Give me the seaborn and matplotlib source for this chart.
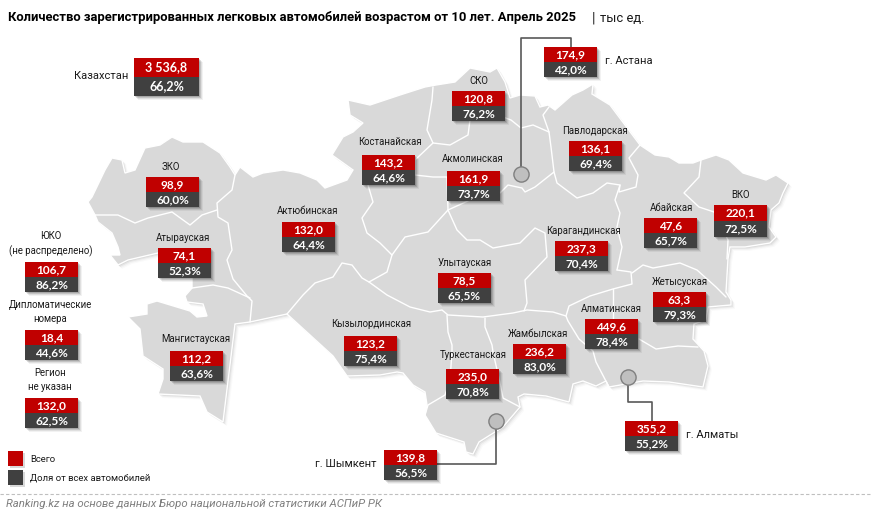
#!/usr/bin/env python3
"""Registered passenger cars older than 10 years by region of Kazakhstan, April 2025"""

import pandas as pd
import matplotlib.pyplot as plt
from matplotlib.patches import Polygon
import seaborn as sns

RED = '#C00000'
DARK = '#404040'
LAND = '#D9D9D9'

# Data
regions = ['Казахстан', 'ЗКО', 'Костанайская', 'Актюбинская', 'Атырауская',
           'ЮКО\n(не распределено)', 'Дипломатические\nномера', 'Регион\nне указан',
           'Мангистауская', 'Кызылординская', 'СКО', 'г. Астана', 'Акмолинская',
           'Павлодарская', 'Карагандинская', 'Абайская', 'ВКО', 'Улытауская',
           'Жетысуская', 'Алматинская', 'Жамбылская', 'Туркестанская',
           'г. Алматы', 'г. Шымкент']
totals = ['3 536,8', '98,9', '143,2', '132,0', '74,1',
          '106,7', '18,4', '132,0',
          '112,2', '123,2', '120,8', '174,9', '161,9',
          '136,1', '237,3', '47,6', '220,1', '78,5',
          '63,3', '449,6', '236,2', '235,0',
          '355,2', '139,8']
shares = ['66,2%', '60,0%', '64,6%', '64,4%', '52,3%',
          '86,2%', '44,6%', '62,5%',
          '63,6%', '75,4%', '76,2%', '42,0%', '73,7%',
          '69,4%', '70,4%', '65,7%', '72,5%', '65,5%',
          '79,3%', '78,4%', '83,0%', '70,8%',
          '55,2%', '56,5%']

# Layout in image pixels: left and top of each box, centre of each name
box_left = [134, 146, 362, 282, 158, 25, 25, 25, 170, 344, 452, 544, 447,
            569, 555, 644, 714, 438, 653, 585, 513, 446, 625, 384]
box_top = [58, 177, 155, 222, 248, 262, 330, 398, 351, 336, 91, 47, 171,
           141, 241, 218, 205, 273, 292, 319, 344, 369, 421, 450]
label_x = [128, 171, 390, 308, 183, 51, 50, 50, 196, 371, 479, 605, 473,
           595, 583, 671, 740, 465, 680, 611, 538, 473, 686, 376]
label_y = [76, 167, 142, 211, 238, 244, 312, 380, 339, 324, 81, 61, 159,
           131, 231, 208, 195, 263, 282, 309, 334, 355, 435, 464]
label_ha = {'Казахстан': 'right', 'г. Шымкент': 'right', 'г. Астана': 'left', 'г. Алматы': 'left'}

city_names = ['г. Астана', 'г. Алматы', 'г. Шымкент']
city_x = [521, 628, 496]
city_y = [174, 377, 421]
city_leaders = [[(521, 168), (521, 38), (571, 38), (571, 47)],
                [(628, 384), (628, 402), (652, 402), (652, 421)],
                [(496, 428), (496, 464), (437, 464)]]

# Map shapes traced by hand
country = [(88, 202), (92, 197), (105, 170), (112, 158), (122, 160), (125, 173), (135, 170), (145, 148),
           (160, 145), (172, 137), (183, 142), (203, 142), (220, 153), (230, 167), (235, 175), (240, 167),
           (253, 177), (263, 173), (283, 170), (300, 173), (317, 180), (325, 188), (347, 180), (353, 170),
           (332, 155), (343, 137), (353, 132), (363, 123), (350, 115), (348, 100), (370, 105), (400, 95),
           (425, 87), (436, 85), (455, 82), (470, 68), (490, 72), (497, 68), (505, 82), (510, 98),
           (520, 95), (535, 96), (540, 107), (548, 105), (555, 110), (572, 95), (583, 90), (593, 84),
           (592, 94), (610, 105), (625, 125), (640, 145), (655, 155), (669, 157), (679, 163), (693, 163),
           (701, 160), (716, 155), (729, 160), (743, 173), (766, 180), (776, 175), (788, 183), (783, 193),
           (779, 203), (771, 210), (769, 227), (776, 237), (770, 243), (745, 247), (730, 247), (728, 259),
           (726, 292), (731, 300), (731, 305), (719, 306), (708, 307), (706, 320), (694, 324), (693, 339),
           (704, 351), (708, 366), (703, 387), (669, 382), (643, 381), (609, 387), (606, 381), (596, 386),
           (583, 381), (573, 384), (569, 402), (546, 396), (524, 394), (518, 397), (520, 407), (503, 427),
           (479, 442), (473, 454), (466, 452), (464, 442), (436, 433), (425, 415), (427, 405), (425, 392),
           (413, 385), (403, 373), (397, 372), (380, 375), (347, 376), (333, 356), (287, 314), (250, 322),
           (235, 324), (223, 422), (207, 412), (200, 396), (158, 394), (163, 379), (163, 369), (143, 356),
           (140, 329), (128, 317), (147, 314), (147, 304), (157, 301), (190, 311), (197, 317), (207, 316),
           (203, 304), (187, 302), (185, 296), (192, 288), (192, 275), (190, 250), (158, 253), (128, 260),
           (118, 265), (110, 255), (120, 255), (118, 247), (112, 233), (98, 222), (95, 215)]

borders = [
    [(95, 215), (118, 215), (135, 223), (148, 218), (172, 212), (190, 225), (202, 215), (217, 210)],
    [(235, 175), (232, 190), (217, 203), (218, 217), (228, 223), (232, 250), (227, 260), (233, 279),
     (247, 296), (252, 301), (250, 322)],
    [(192, 288), (213, 285), (228, 288), (250, 298)],
    [(287, 314), (303, 295), (315, 283), (333, 277), (342, 263), (352, 265), (362, 278), (369, 282),
     (387, 295), (410, 307), (430, 312), (442, 310), (448, 315), (483, 317), (513, 313), (527, 310),
     (553, 312), (566, 316), (569, 306), (590, 296), (613, 289), (632, 284), (631, 272), (617, 270)],
    [(368, 185), (373, 202), (362, 218), (367, 233), (380, 243), (392, 255), (387, 272), (369, 282)],
    [(392, 255), (405, 237), (428, 232), (448, 210), (457, 230), (467, 240), (480, 240), (493, 248),
     (520, 243), (535, 228), (545, 233), (547, 257), (525, 280), (527, 303), (524, 311)],
    [(448, 210), (470, 200), (500, 193), (508, 185), (522, 188), (525, 192), (535, 187), (554, 172),
     (557, 183), (577, 198), (593, 193), (607, 183), (620, 185), (615, 200), (620, 213), (617, 227),
     (622, 247), (617, 270)],
    [(632, 273), (643, 265), (653, 268), (680, 263), (697, 270), (716, 287), (726, 297)],
    [(554, 172), (551, 147), (549, 132), (533, 125), (521, 128), (511, 120), (503, 117), (470, 120)],
    [(549, 132), (543, 115), (549, 107)],
    [(620, 185), (619, 192), (636, 187), (638, 175), (629, 158), (640, 145)],
    [(701, 160), (699, 177), (684, 193), (699, 207), (714, 212), (728, 240), (727, 259)],
    [(433, 87), (432, 100), (427, 130), (433, 143), (450, 145), (468, 135), (470, 120)],
    [(433, 143), (415, 160), (415, 175), (433, 177), (447, 177), (448, 210)],
    [(447, 315), (448, 332), (452, 345), (452, 352), (450, 380), (445, 395), (428, 405), (425, 415)],
    [(485, 318), (485, 327), (492, 345), (493, 352), (500, 383), (503, 398), (520, 407)],
    [(566, 316), (568, 321), (579, 339), (593, 351), (596, 362), (609, 387)],
    [(613, 289), (613, 319)],
    [(639, 339), (656, 349), (678, 346), (698, 347)],
]


def draw_box(ax, left, top, width, height, text_top, text_bottom, fontsize):
    """Two stacked bars with a soft shadow, value above share"""
    half = height / 2
    for off, alpha in [(4, 0.05), (3, 0.08), (2, 0.12), (1, 0.14)]:
        ax.bar(left + off, height, width=width, bottom=top + off, align='edge',
               color='black', alpha=alpha, linewidth=0, zorder=4)
    ax.bar(left, half, width=width, bottom=top, align='edge', color=RED, linewidth=0, zorder=5)
    ax.bar(left, half, width=width, bottom=top + half, align='edge', color=DARK, linewidth=0, zorder=5)
    cx = left + width / 2
    ax.text(cx, top + half / 2, text_top, color='white', fontsize=fontsize, fontweight='bold',
            family=['Lato', 'DejaVu Sans'], ha='center', va='center', zorder=6)
    ax.text(cx, top + half * 1.5, text_bottom, color='white', fontsize=fontsize, fontweight='bold',
            family=['Lato', 'DejaVu Sans'], ha='center', va='center', zorder=6)


def main():
    sns.set_theme(style='white')
    plt.rcParams['font.family'] = ['Roboto', 'DejaVu Sans']

    fig = plt.figure(figsize=(8.72, 5.19), dpi=100)
    ax = fig.add_axes([0, 0, 1, 1])
    ax.set_xlim(0, 872)
    ax.set_ylim(519, 0)
    ax.axis('off')

    # Map with a soft shadow to the lower right
    for off, alpha in [(4, 0.02), (3, 0.03), (2, 0.05), (1, 0.07)]:
        shifted = [(x + off, y + off) for x, y in country]
        ax.add_patch(Polygon(shifted, closed=True, facecolor='black', alpha=alpha, linewidth=0, zorder=1))
    ax.add_patch(Polygon(country, closed=True, facecolor=LAND, edgecolor='white', linewidth=1.0, zorder=2))
    for line in borders:
        ax.plot([p[0] for p in line], [p[1] for p in line], color='white', linewidth=1.0,
                solid_joinstyle='round', zorder=3)

    # City markers and leader lines
    for line in city_leaders:
        ax.plot([p[0] for p in line], [p[1] for p in line], color='#595959', linewidth=1.2, zorder=3.5)
    cities = pd.DataFrame({'city': city_names, 'x': city_x, 'y': city_y})
    sns.scatterplot(data=cities, x='x', y='y', ax=ax, s=120, color='#BFBFBF',
                    edgecolor='#7F7F7F', linewidth=1, zorder=4, legend=False)
    ax.set_xlabel('')
    ax.set_ylabel('')

    # Value boxes and names
    for i, name in enumerate(regions):
        big = name == 'Казахстан'
        if big:
            draw_box(ax, box_left[i], box_top[i], 65, 38, totals[i], shares[i], 9)
        elif name == 'ВКО':
            draw_box(ax, box_left[i], box_top[i], 53, 32, totals[i], shares[i], 8.5)
        else:
            draw_box(ax, box_left[i], box_top[i], 53, 30, totals[i], shares[i], 8.5)
        ha = label_ha.get(name, 'center')
        size = 8.0 if ha != 'center' else 6.95
        ax.text(label_x[i], label_y[i], name, fontsize=size, color='#1A1A1A', ha=ha, va='center',
                linespacing=1.5, zorder=6)

    # Title
    ax.text(8, 18, 'Количество зарегистрированных легковых автомобилей возрастом от 10 лет. Апрель 2025',
            fontsize=9.4, fontweight='bold', color='black', ha='left', va='center')
    ax.text(592, 18, '|', fontsize=10, color='#1A1A1A', ha='left', va='center')
    ax.text(600, 18, 'тыс ед.', fontsize=9.4, color='#1A1A1A', ha='left', va='center')

    # Legend
    for top, color, text in [(451, RED, 'Всего'), (470, DARK, 'Доля от всех автомобилей')]:
        ax.bar(10, 15, width=15, bottom=top + 2, align='edge', color='black', alpha=0.15, linewidth=0)
        ax.bar(8, 15, width=15, bottom=top, align='edge', color=color, linewidth=0)
        ax.text(30, top + 8, text, fontsize=6.8, color='#1A1A1A', ha='left', va='center')

    # Footer
    ax.plot([0, 872], [493.5, 493.5], color='#BFBFBF', linewidth=0.8, linestyle=(0, (3, 2)))
    ax.text(6, 504, 'Ranking.kz на основе данных Бюро национальной статистики АСПиР РК',
            fontsize=8.2, fontstyle='italic', color='#7F7F7F', ha='left', va='center')

    fig.savefig('out.png', dpi=100)


if __name__ == '__main__':
    main()
